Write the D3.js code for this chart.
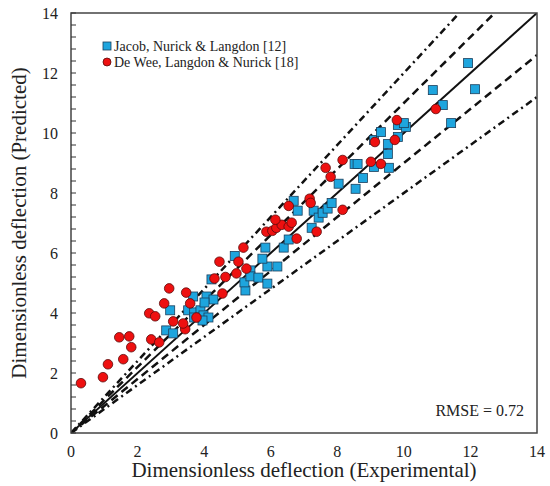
<!DOCTYPE html>
<html>
<head>
<meta charset="utf-8">
<script src="https://cdn.jsdelivr.net/npm/d3@7"></script>
<style>
    body { margin: 0; background: #fff; }
</style>
</head>
<body>
<div id="chart"></div>
<script>

// Jacob, Nurick & Langdon [12] - [experimental, predicted]
var jacobPoints = [
    [2.86, 3.42], [3.07, 3.32], [2.98, 4.09], [3.52, 4.09], [3.70, 4.02],
    [3.89, 4.09], [3.98, 3.92], [4.13, 3.85], [3.95, 3.75], [3.70, 3.85],
    [3.67, 4.55], [4.07, 4.55], [4.28, 4.45], [4.01, 4.35], [4.22, 5.12],
    [4.92, 5.90], [5.24, 4.75], [5.21, 5.02], [5.39, 5.42], [5.39, 5.22],
    [5.63, 5.18], [5.90, 4.98], [5.90, 5.55], [6.20, 5.55], [5.75, 5.81],
    [5.84, 6.18], [6.39, 6.18], [6.54, 6.45], [7.23, 6.84], [6.69, 7.74],
    [6.81, 7.41], [7.29, 7.41], [7.44, 7.18], [7.56, 7.34], [7.71, 7.48],
    [7.83, 7.67], [8.04, 8.31], [8.55, 8.14], [8.52, 8.97], [8.61, 8.97],
    [8.77, 8.50], [9.10, 8.87], [9.55, 8.84], [9.52, 9.30], [9.52, 9.63],
    [9.10, 9.77], [9.82, 9.87], [9.31, 10.03], [9.82, 10.27], [10.06, 10.20],
    [10.00, 10.33], [11.42, 10.33], [11.17, 10.93], [10.87, 11.43], [12.14, 11.46],
    [11.93, 12.33]
];

// De Wee, Langdon & Nurick [18]
var deweePoints = [
    [0.30, 1.66], [0.96, 1.86], [1.11, 2.29], [1.57, 2.46], [1.45, 3.19],
    [1.75, 3.22], [1.81, 2.86], [2.41, 3.12], [2.65, 3.02], [3.07, 3.72],
    [3.43, 3.46], [3.37, 3.65], [2.35, 3.99], [2.53, 3.89], [3.77, 3.85],
    [2.80, 4.32], [3.58, 4.32], [2.95, 4.82], [3.46, 4.68], [4.55, 4.65],
    [4.31, 5.15], [4.64, 5.20], [4.97, 5.32], [5.27, 5.48], [4.46, 5.71],
    [5.03, 5.71], [5.18, 6.18], [5.87, 6.71], [6.05, 6.74], [6.17, 6.84],
    [6.33, 6.94], [6.54, 6.88], [6.63, 7.01], [6.78, 6.48], [6.14, 7.11],
    [7.38, 6.71], [6.54, 7.57], [7.17, 7.81], [7.20, 7.67], [8.16, 7.44],
    [7.80, 8.54], [7.65, 8.84], [8.16, 9.10], [9.01, 9.04], [9.31, 8.97],
    [9.13, 9.70], [9.73, 9.77], [9.79, 10.43], [10.96, 10.80]
];

var seriesNames = ["Jacob, Nurick & Langdon [12]", "De Wee, Langdon & Nurick [18]"];

// reference lines y = k * x
var lineFactors = [1.2, 1.1, 1.0, 0.9, 0.8];

var xTicks = [0, 2, 4, 6, 8, 10, 12, 14];
var yTicks = [0, 2, 4, 6, 8, 10, 12, 14];

var rmseLabel = "RMSE = 0.72";


// Internal variables
//

var width = 550;
var height = 486;

var margin = {
    top: 13,
    bottom: 53,
    left: 71,
    right: 13
};

var innerWidth = width - margin.left - margin.right;
var innerHeight = height - margin.top - margin.bottom;

var blue = "#1ea5de";
var red = "#ee1010";
var serif = "'Liberation Serif', 'DejaVu Serif', serif";

var x_scale = d3.scaleLinear().domain([0, 14]).range([0, innerWidth]);
var y_scale = d3.scaleLinear().domain([0, 14]).range([innerHeight, 0]);

var svg = d3.select("#chart")
    .append("svg")
    .attr("width", width)
    .attr("height", height)
    .attr("font-family", serif)
    .append("g")
    .attr("transform", "translate(" + margin.left + "," + margin.top + ")");

svg.append("clipPath")
    .attr("id", "plot-clip")
    .append("rect")
    .attr("width", innerWidth)
    .attr("height", innerHeight);

// reference lines, clipped to the plot box
var lineStyles = {
    "1.2": "7,4,2,4",
    "1.1": "8,5",
    "1": null,
    "0.9": "8,5",
    "0.8": "7,4,2,4"
};

svg.append("g")
    .attr("clip-path", "url(#plot-clip)")
    .selectAll("line")
    .data(lineFactors)
    .enter()
    .append("line")
    .attr("x1", x_scale(0))
    .attr("y1", y_scale(0))
    .attr("x2", function(k) { return x_scale(Math.min(14, 14 / k)); })
    .attr("y2", function(k) { return y_scale(Math.min(14, 14 / k) * k); })
    .attr("stroke", "#111")
    .attr("stroke-width", function(k) { return k === 1 ? 2 : 2.5; })
    .attr("stroke-dasharray", function(k) { return lineStyles[String(k)]; });

// the points
svg.append("g")
    .selectAll("rect")
    .data(jacobPoints)
    .enter()
    .append("rect")
    .attr("x", function(d) { return x_scale(d[0]) - 4.5; })
    .attr("y", function(d) { return y_scale(d[1]) - 4.5; })
    .attr("width", 9)
    .attr("height", 9)
    .attr("fill", blue)
    .attr("stroke", "#1b3f5c")
    .attr("stroke-width", 0.8);

svg.append("g")
    .selectAll("circle")
    .data(deweePoints)
    .enter()
    .append("circle")
    .attr("cx", function(d) { return x_scale(d[0]); })
    .attr("cy", function(d) { return y_scale(d[1]); })
    .attr("r", 4.8)
    .attr("fill", red)
    .attr("stroke", "#5a0a0a")
    .attr("stroke-width", 0.8);

// frame
svg.append("rect")
    .attr("width", innerWidth)
    .attr("height", innerHeight)
    .attr("fill", "none")
    .attr("stroke", "#444")
    .attr("stroke-width", 1.5);

// y axis: labels outside, major and minor ticks inside
var yMinor = d3.range(0, 14.001, 0.4);
svg.append("g")
    .selectAll("line")
    .data(yMinor)
    .enter()
    .append("line")
    .attr("x1", 0)
    .attr("x2", 5)
    .attr("y1", function(d) { return y_scale(d); })
    .attr("y2", function(d) { return y_scale(d); })
    .attr("stroke", "#333")
    .attr("stroke-width", 1);

svg.append("g")
    .selectAll("text")
    .data(yTicks)
    .enter()
    .append("text")
    .attr("x", -13)
    .attr("y", function(d) { return y_scale(d); })
    .attr("dy", "0.35em")
    .attr("text-anchor", "end")
    .attr("font-size", "16px")
    .attr("fill", "#222")
    .text(function(d) { return d; });

svg.append("g")
    .selectAll("text")
    .data(xTicks)
    .enter()
    .append("text")
    .attr("x", function(d) { return x_scale(d); })
    .attr("y", innerHeight + 24)
    .attr("text-anchor", "middle")
    .attr("font-size", "16px")
    .attr("fill", "#222")
    .text(function(d) { return d; });

// axis labels
svg.append("text")
    .attr("transform", "translate(-45," + innerHeight / 2 + ")rotate(-90)")
    .attr("text-anchor", "middle")
    .attr("font-size", "21px")
    .attr("fill", "#222")
    .text("Dimensionless deflection (Predicted)");

svg.append("text")
    .attr("x", innerWidth / 2)
    .attr("y", innerHeight + 44)
    .attr("text-anchor", "middle")
    .attr("font-size", "21px")
    .attr("fill", "#222")
    .text("Dimensionless deflection (Experimental)");

// legend
var legend = svg.append("g")
    .attr("transform", "translate(36,33)");

legend.append("rect")
    .attr("x", -4)
    .attr("y", -4)
    .attr("width", 8)
    .attr("height", 8)
    .attr("fill", blue)
    .attr("stroke", "#1b3f5c")
    .attr("stroke-width", 0.8);

legend.append("circle")
    .attr("cx", 0)
    .attr("cy", 16)
    .attr("r", 4)
    .attr("fill", red)
    .attr("stroke", "#5a0a0a")
    .attr("stroke-width", 0.8);

legend.selectAll("text")
    .data(seriesNames)
    .enter()
    .append("text")
    .attr("x", 7)
    .attr("y", function(d, i) { return i * 16; })
    .attr("dy", "0.35em")
    .attr("font-size", "14px")
    .attr("fill", "#222")
    .text(function(d) { return d; });

svg.append("text")
    .attr("x", innerWidth - 13)
    .attr("y", innerHeight - 17)
    .attr("text-anchor", "end")
    .attr("font-size", "16px")
    .attr("fill", "#222")
    .text(rmseLabel);

</script>
</body>
</html>
